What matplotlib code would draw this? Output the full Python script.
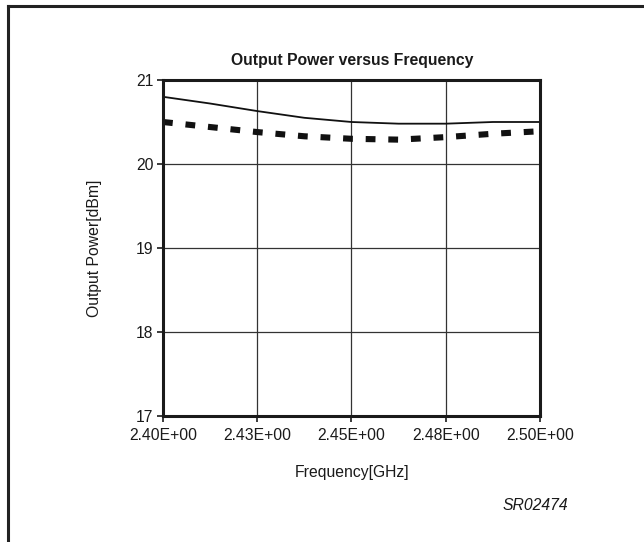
import matplotlib
matplotlib.use("Agg")
import matplotlib.pyplot as plt
from matplotlib.lines import Line2D

plt.rcParams['font.family'] = ['Liberation Sans', 'DejaVu Sans']

freq = [2.400, 2.4125, 2.425, 2.4375, 2.450, 2.4625, 2.475, 2.4875, 2.500]
p_solid = [20.80, 20.72, 20.63, 20.55, 20.50, 20.48, 20.48, 20.50, 20.50]
p_dash = [20.50, 20.44, 20.38, 20.33, 20.30, 20.29, 20.32, 20.36, 20.39]
xticks = [2.400, 2.425, 2.450, 2.475, 2.500]
xlabels = ['2.40E+00', '2.43E+00', '2.45E+00', '2.48E+00', '2.50E+00']
yticks = [17, 18, 19, 20, 21]

fig = plt.figure(figsize=(6.44, 5.42), dpi=100)
ax = fig.add_axes([0.2531, 0.2325, 0.5854, 0.6199])

ax.plot(freq, p_solid, color='#111111', lw=1.3)
ln, = ax.plot(freq, p_dash, color='#111111', lw=4.4, solid_capstyle='butt', dash_capstyle='butt')
ln.set_dashes([1.6, 2.1])

ax.set_xlim(2.4, 2.5)
ax.set_ylim(17, 21)
ax.set_xticks(xticks)
ax.set_xticklabels(xlabels)
ax.set_yticks(yticks)
ax.grid(True, color='#333333', lw=0.9)
for s in ax.spines.values():
  s.set_linewidth(2.2)
  s.set_color('#1a1a1a')
ax.tick_params(direction='out', length=4, width=1.2, labelsize=11.3, colors='#1a1a1a', pad=3)
ax.tick_params(axis='x', pad=5)

fig.text(0.5466, 0.889, 'Output Power versus Frequency', ha='center', va='center', fontsize=11.3, fontweight='bold', color='#1a1a1a')
fig.text(0.5466, 0.129, 'Frequency[GHz]', ha='center', va='center', fontsize=11.3, color='#1a1a1a')
fig.text(0.1475, 0.5425, 'Output Power[dBm]', ha='center', va='center', rotation=90, fontsize=11.3, color='#1a1a1a')
fig.text(0.831, 0.068, 'SR02474', ha='center', va='center', fontsize=11.3, style='italic', color='#1a1a1a')

# outer frame: top and left only
fig.add_artist(Line2D([0.0125, 1.0], [0.989, 0.989], transform=fig.transFigure, color='#222222', lw=2.2))
fig.add_artist(Line2D([0.0125, 0.0125], [0.0, 0.989], transform=fig.transFigure, color='#222222', lw=2.2))

fig.savefig('out.png', dpi=100)
